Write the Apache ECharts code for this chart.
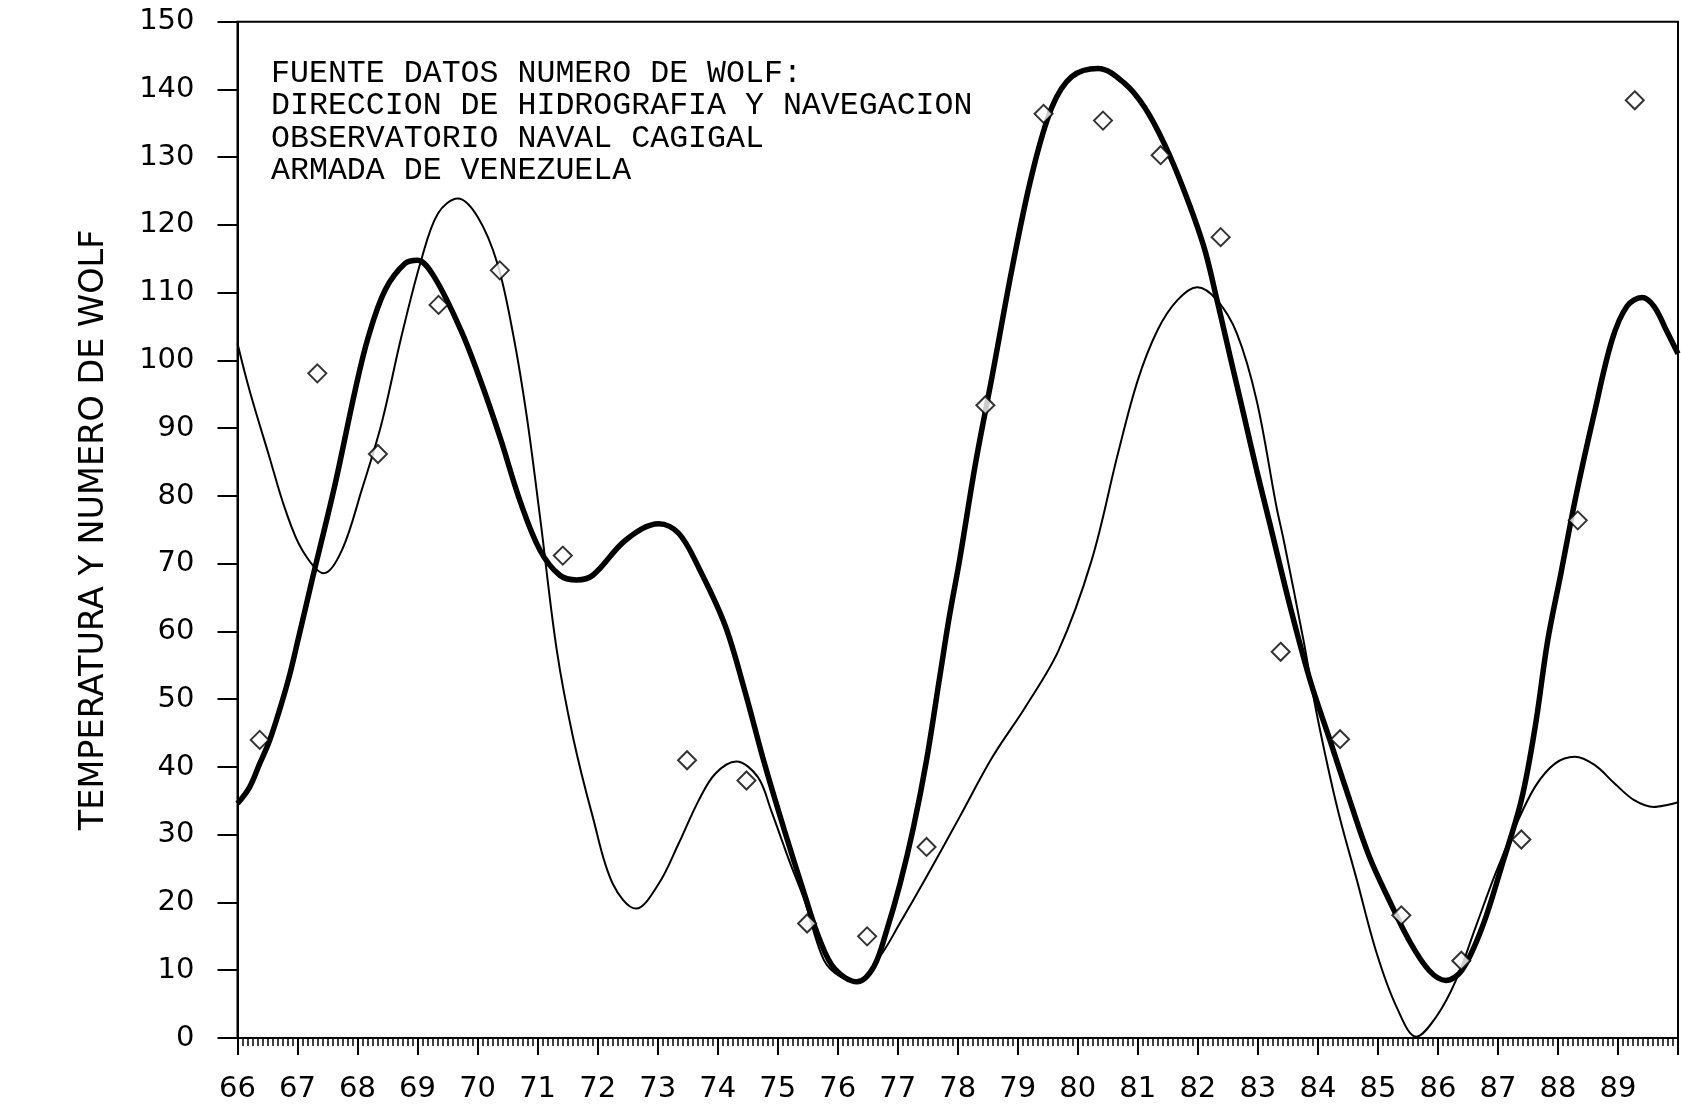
<!DOCTYPE html>
<html>
<head>
<meta charset="utf-8">
<script src="https://cdn.jsdelivr.net/npm/echarts@6/dist/echarts.min.js"></script>
<style>
  html, body { margin: 0; padding: 0; background: #fff; }
  #chart { width: 1681px; height: 1104px; }
</style>
</head>
<body>
<div id="chart"></div>
<script>
// Tick labels of the year axis (19xx)
const yearTickLabels = ['66','67','68','69','70','71','72','73','74','75','76','77','78','79','80','81','82','83','84','85','86','87','88','89'];
const yAxisTitle = 'TEMPERATURA Y NUMERO DE WOLF';
const noteLines = [
  'FUENTE DATOS NUMERO DE WOLF:',
  'DIRECCION DE HIDROGRAFIA Y NAVEGACION',
  'OBSERVATORIO NAVAL CAGIGAL',
  'ARMADA DE VENEZUELA'
];

// Thick curve: smoothed Wolf number [year, value]
const wolfSmooth = [
  [66.0,34.6],[66.2,37],[66.37,40.5],[66.53,43.8],[66.7,48.4],[66.86,53.3],[67.02,59.2],
  [67.24,67.5],[67.63,81.9],[67.96,95.6],[68.18,103.5],[68.46,110.4],[68.79,114.3],
  [69.0,114.8],[69.28,112.3],[69.72,104.5],[70.05,97],[70.38,88.5],[70.71,79.2],
  [71.04,72],[71.37,68.3],[71.65,67.6],[71.92,68.3],[72.47,73.5],[73.02,75.9],[73.35,74.5],
  [73.68,69.5],[74.12,61],[74.45,51.3],[74.78,40.5],[75.11,30.7],[75.44,21.4],[75.7,14.5],
  [75.95,10.2],[76.32,8.3],[76.6,10.5],[76.82,16],[77.04,22.8],[77.26,31],[77.48,41],
  [77.7,53.3],[77.86,62.2],[78.03,70.5],[78.3,85],[78.58,98],[78.91,113.8],[79.24,127.6],
  [79.57,137.4],[79.9,141.9],[80.34,143.1],[80.78,140.9],[81.11,137.4],[81.44,132],
  [81.77,125.1],[82.1,116.8],[82.32,108.9],[82.54,100.5],[82.76,92.2],[82.98,83.8],
  [83.2,75.9],[83.54,63.6],[83.87,52.8],[84.2,44],[84.53,35.1],[84.86,26.7],[85.19,20.3],
  [85.52,14.4],[85.85,10],[86.13,8.5],[86.4,10],[86.74,16.4],[87.06,25.3],[87.39,35.1],
  [87.62,45.9],[87.83,58.7],[88.05,68.6],[88.3,80],[88.6,92],[88.9,103],[89.15,108],
  [89.4,109.3],[89.6,108],[89.82,104.2],[90.0,101]
];

// Thin curve: temperature [year, value]
const temperature = [
  [66.0,102.5],[66.2,95.6],[66.53,85.8],[66.8,77.9],[67.08,72],[67.44,68.6],[67.74,72],
  [68.07,80.9],[68.4,90.7],[68.73,103.5],[69.06,114.8],[69.34,121.7],[69.67,123.9],
  [70.0,121.2],[70.33,114.3],[70.6,103.5],[70.82,91.7],[71.04,76.9],[71.32,57.2],
  [71.59,44.4],[71.92,32.6],[72.25,22.8],[72.64,19.1],[73.02,22.8],[73.35,28.7],[73.68,35],
  [73.96,39],[74.31,40.8],[74.67,38.5],[74.89,33.6],[75.2,26],[75.44,20.5],[75.77,11.5],
  [76.05,9],[76.32,8.5],[76.7,12],[77.04,17],[77.48,23.8],[78.03,32.6],[78.58,41.5],
  [79.13,48.9],[79.68,57.2],[80.23,70.5],[80.67,86.3],[81.0,97.1],[81.33,104.5],
  [81.66,108.9],[81.99,110.8],[82.32,108.9],[82.65,104],[82.98,94.1],[83.31,78.4],
  [83.43,73.5],[83.76,58.7],[83.98,47.9],[84.32,34.1],[84.65,23.3],[84.98,12.5],
  [85.31,4.6],[85.64,0.2],[85.97,3.1],[86.3,8.5],[86.63,16.4],[86.96,24.3],[87.29,31.2],
  [87.62,37.1],[87.95,40.5],[88.28,41.5],[88.61,40.3],[88.94,37.6],[89.27,35.1],
  [89.6,34.1],[89.82,34.4],[90.0,34.8]
];

// Diamonds: observed yearly Wolf numbers [year position, value]
const wolfObserved = [
  [66.37,44],[67.33,98.1],[68.34,86.2],[69.35,108.2],[70.37,113.3],[71.42,71.2],
  [73.49,41],[74.48,38],[75.49,16.9],[76.49,15],[77.48,28.2],[78.46,93.4],[79.43,136.4],
  [80.42,135.4],[81.38,130.3],[82.38,118.2],[83.38,57],[84.37,44.1],[85.39,18.1],
  [86.39,11.4],[87.39,29.3],[88.33,76.4],[89.28,138.4]
];

const chart = echarts.init(document.getElementById('chart'), null, { renderer: 'canvas' });
const axisFont = 'DejaVu Sans';

chart.setOption({
  backgroundColor: '#fff',
  animation: false,
  grid: {
    left: 237.5, top: 21.7, bottom: 66, right: -10.2,
    show: true, borderColor: '#000', borderWidth: 2, backgroundColor: 'transparent'
  },
  xAxis: {
    type: 'value', min: 66, max: 90, interval: 1,
    axisLine: { show: true, lineStyle: { color: '#000', width: 2 } },
    axisTick: { show: true, length: 17, lineStyle: { color: '#000', width: 2 } },
    minorTick: { show: true, splitNumber: 12, length: 8, lineStyle: { color: '#000', width: 1.5 } },
    splitLine: { show: false },
    minorSplitLine: { show: false },
    axisLabel: {
      color: '#000', fontFamily: axisFont, fontSize: 29, margin: 37,
      formatter: v => { const i = Math.round(v) - 66; return yearTickLabels[i] !== undefined ? yearTickLabels[i] : ''; }
    }
  },
  yAxis: {
    type: 'value', min: 0, max: 150, interval: 10,
    name: yAxisTitle, nameLocation: 'middle', nameRotate: 90, nameGap: 126,
    nameTextStyle: { color: '#000', fontFamily: axisFont, fontSize: 33.5 },
    axisLine: { show: true, lineStyle: { color: '#000', width: 2 } },
    axisTick: { show: true, length: 20, lineStyle: { color: '#000', width: 2 } },
    splitLine: { show: false },
    axisLabel: { color: '#000', fontFamily: axisFont, fontSize: 29, margin: 43 }
  },
  graphic: [{
    type: 'text', left: 271, top: 57, z: 10,
    style: {
      text: noteLines.join('\n'), fill: '#000',
      font: '31.6px "Liberation Mono"', lineHeight: 32.6
    }
  }],
  series: [
    {
      type: 'line', data: wolfSmooth, smooth: 0.35, showSymbol: false, symbol: 'none',
      lineStyle: { color: '#000', width: 5.5 }, z: 3, clip: true
    },
    {
      type: 'line', data: temperature, smooth: 0.35, showSymbol: false, symbol: 'none',
      lineStyle: { color: '#000', width: 2 }, z: 2, clip: true
    },
    {
      type: 'scatter', data: wolfObserved, symbol: 'diamond', symbolSize: 18,
      itemStyle: { color: '#fff', borderColor: '#000', borderWidth: 2 }, z: 5
    }
  ]
});
</script>
</body>
</html>
